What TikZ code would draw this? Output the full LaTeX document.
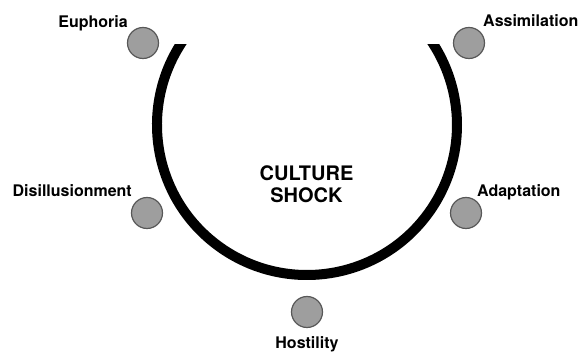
\documentclass[tikz,border=0pt]{standalone}
\usepackage{fontspec}
\setmainfont{TeX Gyre Heros}
\usepackage{tikz}
\usetikzlibrary{positioning}
\definecolor{dotgray}{RGB}{158,158,158}
\definecolor{rimgray}{RGB}{88,88,88}
\newcommand{\ringr}{150}
\newcommand{\dotd}{31pt}

\begin{document}
\begin{tikzpicture}[x=1pt,y=1pt]
        \useasboundingbox (0,0) rectangle (579,353);
        \coordinate (hub) at (307,228);
        \begin{scope}
            \clip (0,0) rectangle (579,308);
            \draw[line width=10pt] (hub) ++(144:\ringr) arc[start angle=144, end angle=396, radius=\ringr];
        \end{scope}
        \begin{scope}
            %\draw[help lines,step=10] (0,0) grid (579,353);
            \tikzset{Stage/.style = {circle, fill=dotgray, draw=rimgray, line width=1.2pt, minimum size=\dotd, inner sep=0pt}}
            \tikzset{StageName/.style = {font=\bfseries\fontsize{16}{18}\selectfont, inner sep=0pt}}
            \node[font=\bfseries\fontsize{20}{22}\selectfont, align=center] (shock) at (306.5,169) {CULTURE\\SHOCK};
            \node[Stage] (euphoria) at (143,310) {};
            \node[Stage] (assimilation) at (469,310) {};
            \node[Stage] (disillusion) at (147,140) {};
            \node[Stage] (adaptation) at (466,140) {};
            \node[Stage] (hostility) at (307,41) {};
            \node[StageName, anchor=base east] (euphoria-name) at (128,325) {Euphoria};
            \node[StageName, anchor=base west] (assimilation-name) at (483,326) {Assimilation};
            \node[StageName, anchor=base east] (disillusion-name) at (132,156) {Disillusionment};
            \node[StageName, anchor=base west] (adaptation-name) at (477,156) {Adaptation};
            \node[StageName, anchor=base] (hostility-name) at (307,4) {Hostility};
        \end{scope}
    \end{tikzpicture}
\end{document}
